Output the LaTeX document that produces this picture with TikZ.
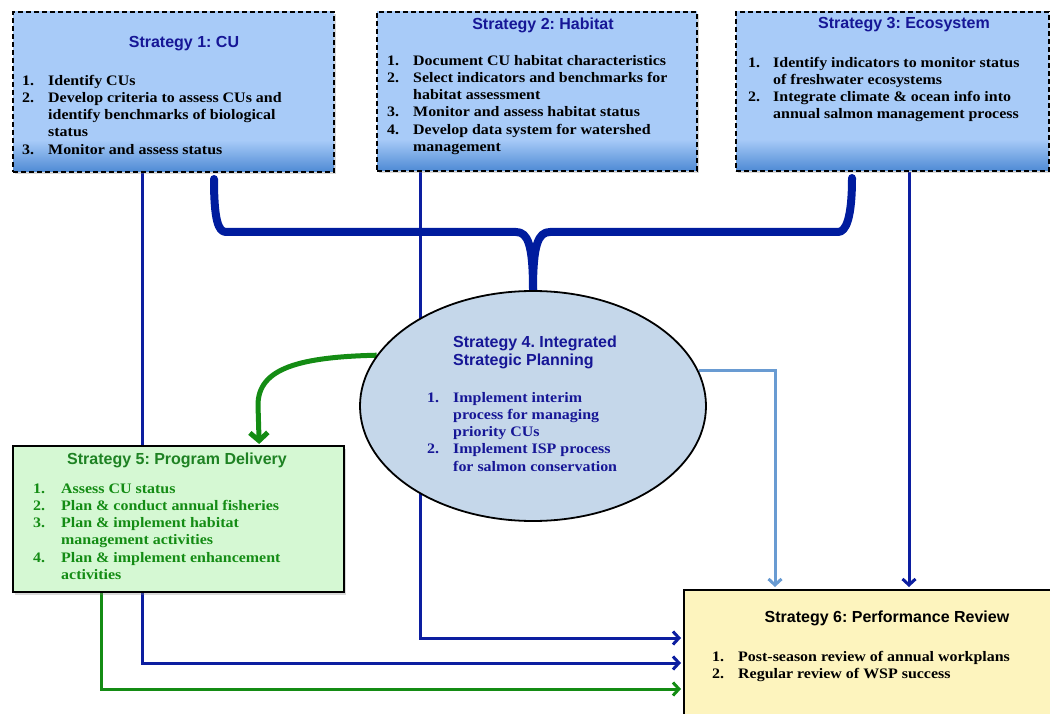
\documentclass[tikz,border=0pt]{standalone}
\usepackage{fontspec}
\setmainfont{Liberation Serif}
\newfontfamily\titlefont{Liberation Sans}
\newfontfamily\itemfont[FakeStretch=1.1]{Liberation Serif}
\usetikzlibrary{shapes.geometric,arrows.meta,shadows,backgrounds}
\frenchspacing

\definecolor{navy}{RGB}{22,22,150}
\definecolor{linkblue}{RGB}{12,30,160}
\definecolor{bracecol}{RGB}{0,28,158}
\definecolor{paleblue}{RGB}{105,155,210}
\definecolor{grn}{RGB}{20,140,20}
\definecolor{titlegreen}{RGB}{30,130,35}
\definecolor{blight}{RGB}{168,203,248}
\definecolor{bdark}{RGB}{78,138,212}
\definecolor{ellfill}{RGB}{197,215,234}
\definecolor{greenfill}{RGB}{213,248,211}
\definecolor{yellowfill}{RGB}{253,244,190}

% light blue body fading to a deeper blue along the bottom edge
\pgfdeclareverticalshading{stratblue}{100bp}{color(0bp)=(bdark); color(25bp)=(bdark); color(35bp)=(blight); color(100bp)=(blight)}

\begin{document}
\begin{tikzpicture}[x=1pt,y=-1pt,
  boxshadow/.style={drop shadow={opacity=0.3,shadow xshift=2pt,shadow yshift=-2.5pt}},
  topbox/.style={draw=black, line width=2pt, dash pattern=on 5pt off 3pt,
    shading=stratblue, boxshadow, anchor=north west, inner sep=0},
  solidbox/.style={draw=black, line width=2.4pt, boxshadow, anchor=north west, inner sep=0},
  titletext/.style={font=\titlefont\bfseries\fontsize{16}{18}\selectfont, inner sep=0, text=navy},
  itemtext/.style={font=\itemfont\bfseries\fontsize{14.5}{17.2}\selectfont, inner sep=0,
    anchor=north west, text=black},
  tip/.style={-{Straight Barb[length=6pt,width=13pt]}, shorten >=2pt},
  link/.style={draw=linkblue, line width=3pt, tip},
  palelink/.style={draw=paleblue, line width=3pt, tip},
  greenlink/.style={draw=grn, line width=3pt, tip},
  bracestroke/.style={draw=bracecol, line width=8pt, line cap=round, line join=round},
]
\useasboundingbox (0,0) rectangle (1050,714);
\clip (0,0) rectangle (1050,714);

% ---- strategy boxes ----
\node[topbox, minimum width=321pt, minimum height=160pt] (s1) at (12,11) {};
\node[topbox, minimum width=320pt, minimum height=159pt] (s2) at (376,11) {};
\node[topbox, minimum width=313pt, minimum height=159pt] (s3) at (735,11) {};
\node[ellipse, draw=black, line width=1.8pt, fill=ellfill, minimum width=346pt, minimum height=230pt, inner sep=0] (s4) at (533,406) {};
\node[solidbox, fill=greenfill, minimum width=331pt, minimum height=146pt] (s5) at (12,445) {};
\node[solidbox, fill=yellowfill, minimum width=420pt, minimum height=170pt] (s6) at (683,589) {};

% ---- titles ----
\node[titletext] (s1t) at (184,44) {Strategy 1: CU};
\node[titletext] (s2t) at (543,25) {Strategy 2: Habitat};
\node[titletext] (s3t) at (904,25) {Strategy 3: Ecosystem};
\node[titletext, anchor=north west, align=left, font=\titlefont\bfseries\fontsize{16}{18}\selectfont] (s4t) at (453,336) {Strategy 4. Integrated\\Strategic Planning};
\node[titletext, text=titlegreen] (s5t) at (177,460) {Strategy 5: Program Delivery};
\node[titletext, text=black] (s6t) at (887,618) {Strategy 6: Performance Review};

% ---- numbered lists ----
\node[itemtext] (s1l) at (22,73) {\begin{tabular}{@{}p{26pt}@{}l@{}}
1. & Identify CUs\\
2. & Develop criteria to assess CUs and\\
   & identify benchmarks of biological\\
   & status\\
3. & Monitor and assess status
\end{tabular}};
\node[itemtext] (s2l) at (387,53) {\begin{tabular}{@{}p{26pt}@{}l@{}}
1. & Document CU habitat characteristics\\
2. & Select indicators and benchmarks for\\
   & habitat assessment\\
3. & Monitor and assess habitat status\\
4. & Develop data system for watershed\\
   & management
\end{tabular}};
\node[itemtext] (s3l) at (748,55) {\begin{tabular}{@{}p{25pt}@{}l@{}}
1. & Identify indicators to monitor status\\
   & of freshwater ecosystems\\
2. & Integrate climate \& ocean info into\\
   & annual salmon management process
\end{tabular}};
\node[itemtext, text=navy] (s4l) at (427,390) {\begin{tabular}{@{}p{26pt}@{}l@{}}
1. & Implement interim\\
   & process for managing\\
   & priority CUs\\
2. & Implement ISP process\\
   & for salmon conservation
\end{tabular}};
\node[itemtext, text=grn] (s5l) at (33,481) {\begin{tabular}{@{}p{28pt}@{}l@{}}
1. & Assess CU status\\
2. & Plan \& conduct annual fisheries\\
3. & Plan \& implement habitat\\
   & management activities\\
4. & Plan \& implement enhancement\\
   & activities
\end{tabular}};
\node[itemtext] (s6l) at (712,649) {\begin{tabular}{@{}p{26pt}@{}l@{}}
1. & Post-season review of annual workplans\\
2. & Regular review of WSP success
\end{tabular}};

% ---- connectors, kept behind the boxes ----
\begin{pgfonlayer}{background}
\draw[link] ([xshift=-31.5pt]s1.south) |- ([yshift=-74pt]s6.north west);
\draw[link] ([xshift=-117pt]s2.south) |- ([yshift=-49pt]s6.north west);
\draw[link] ([xshift=16.5pt]s3.south) -- ([xshift=16.5pt]s3.south |- s6.north);
\draw[palelink] (s4.12) -| ([xshift=92pt]s6.north west);
\draw[greenlink] ([xshift=-77.5pt]s5.south) |- ([yshift=-100pt]s6.north west);
% curly brace gathering strategies 1-3 into strategy 4
\draw[bracestroke] ([xshift=40.5pt,yshift=-6pt]s1.south) .. controls +(0,40) and +(-8,0) .. (226,232)
  -- (516,232) .. controls +(12,0) and +(0,-45) .. (s4.north);
\draw[bracestroke] ([xshift=-40.5pt,yshift=-6pt]s3.south) .. controls +(0,40) and +(8,0) .. (838,232)
  -- (550,232) .. controls +(-12,0) and +(0,-45) .. (s4.north);
% curved hand-off from strategy 4 to strategy 5
\draw[draw=grn, line width=5pt, -{Straight Barb[length=8pt,width=18pt]}, shorten >=1pt]
  (s4.162) .. controls (300,357) and (258,368) .. (258,405) -- ([xshift=80.5pt]s5.north);
\end{pgfonlayer}
\end{tikzpicture}
\end{document}
